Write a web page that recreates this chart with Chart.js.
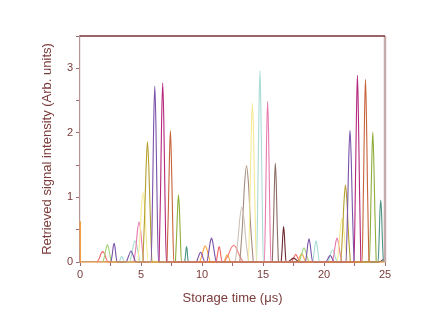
<!DOCTYPE html>
<html>
<head>
<meta charset="utf-8">
<script src="https://cdn.jsdelivr.net/npm/chart.js@4.4.1/dist/chart.umd.min.js"></script>
<style>
  html, body { margin: 0; padding: 0; background: #fff; }
</style>
</head>
<body>
<canvas id="myChart" width="447" height="315"></canvas>
<script>
// pulses, [time (us), intensity]
const baseline = [[0, 0.63], [0.04, 0], [25, 0]]
const purple = [
  [2.54,0],[2.64,0.11],[2.72,0.23],[2.79,0.29],[2.87,0.23],[2.94,0.11],[3.04,0],
  [3.78,0],[3.94,0.07],[4.06,0.13],[4.18,0.17],[4.3,0.13],[4.42,0.07],[4.58,0],
  [5.83,0],[5.95,1.06],[6.04,2.15],[6.13,2.72],[6.22,2.15],[6.31,1.06],[6.43,0],
  [9.53,0],[9.67,0.06],[9.78,0.12],[9.88,0.15],[9.99,0.12],[10.09,0.06],[10.23,0],
  [10.38,0],[10.54,0.14],[10.66,0.29],[10.78,0.37],[10.9,0.29],[11.02,0.14],[11.18,0],
  [18.47,0],[18.59,0.14],[18.68,0.28],[18.77,0.36],[18.86,0.28],[18.95,0.14],[19.07,0],
  [20.15,0],[20.29,0.04],[20.4,0.08],[20.5,0.1],[20.61,0.08],[20.71,0.04],[20.85,0],
  [21.8,0],[21.93,0.8],[22.03,1.61],[22.13,2.04],[22.23,1.61],[22.33,0.8],[22.46,0]]
const magenta = [
  [6.48,0],[6.6,1.08],[6.69,2.19],[6.78,2.77],[6.87,2.19],[6.96,1.08],[7.08,0],
  [22.46,0],[22.57,1.13],[22.66,2.28],[22.74,2.89],[22.82,2.28],[22.91,1.13],[23.02,0]]
const rust = [
  [7.13,0],[7.24,0.79],[7.33,1.6],[7.41,2.03],[7.49,1.6],[7.58,0.79],[7.69,0],
  [23.12,0],[23.23,1.1],[23.32,2.24],[23.4,2.83],[23.48,2.24],[23.57,1.1],[23.68,0]]
const olive = [
  [5.15,0],[5.3,0.73],[5.42,1.47],[5.53,1.86],[5.64,1.47],[5.76,0.73],[5.91,0],
  [21.36,0],[21.52,0.46],[21.64,0.94],[21.76,1.19],[21.88,0.94],[22.0,0.46],[22.16,0]]
const yellow = [
  [4.75,0],[4.92,0.42],[5.04,0.85],[5.17,1.08],[5.3,0.85],[5.42,0.42],[5.59,0],
  [13.8,0],[13.93,0.96],[14.03,1.94],[14.13,2.46],[14.23,1.94],[14.33,0.96],[14.46,0],
  [21.06,0],[21.23,0.27],[21.35,0.54],[21.48,0.68],[21.61,0.54],[21.73,0.27],[21.9,0]]
const green = [
  [7.82,0],[7.92,0.41],[8.0,0.82],[8.07,1.04],[8.15,0.82],[8.22,0.41],[8.32,0],
  [23.72,0],[23.83,0.78],[23.92,1.59],[24.0,2.01],[24.08,1.59],[24.17,0.78],[24.28,0]]
const lightGreen = [
  [1.89,0],[2.03,0.11],[2.14,0.21],[2.24,0.27],[2.35,0.21],[2.45,0.11],[2.59,0],
  [17.96,0],[18.12,0.09],[18.24,0.17],[18.36,0.22],[18.48,0.17],[18.6,0.09],[18.76,0]]
const pink = [
  [4.42,0],[4.59,0.24],[4.71,0.49],[4.84,0.62],[4.97,0.49],[5.09,0.24],[5.26,0],
  [15.11,0],[15.22,0.97],[15.3,1.97],[15.38,2.49],[15.46,1.97],[15.54,0.97],[15.65,0],
  [20.67,0],[20.83,0.14],[20.95,0.29],[21.07,0.37],[21.19,0.29],[21.31,0.14],[21.47,0]]
const lightCyan = [
  [3.22,0],[3.3,0.04],[3.36,0.07],[3.42,0.09],[3.48,0.07],[3.54,0.04],[3.62,0],
  [4.06,0],[4.24,0.13],[4.38,0.26],[4.51,0.33],[4.65,0.26],[4.78,0.13],[4.96,0],
  [14.47,0],[14.58,1.15],[14.67,2.34],[14.75,2.96],[14.83,2.34],[14.92,1.15],[15.03,0],
  [19.07,0],[19.18,0.13],[19.27,0.26],[19.35,0.33],[19.43,0.26],[19.52,0.13],[19.63,0],
  [20.3,0],[20.46,0.07],[20.58,0.15],[20.7,0.19],[20.82,0.15],[20.94,0.07],[21.1,0]]
const teal = [
  [8.58,0],[8.64,0.09],[8.69,0.19],[8.73,0.24],[8.78,0.19],[8.82,0.09],[8.88,0],
  [24.43,0],[24.52,0.37],[24.58,0.76],[24.65,0.96],[24.72,0.76],[24.78,0.37],[24.87,0]]
const beige = [[12.72,0],[12.94,0.33],[13.1,0.67],[13.27,0.85],[13.44,0.67],[13.6,0.33],[13.82,0]]
const taupe = [[13.1,0],[13.32,0.58],[13.48,1.18],[13.65,1.49],[13.82,1.18],[13.98,0.58],[14.2,0]]
const greyBrown = [[15.76,0],[15.86,0.6],[15.94,1.21],[16.01,1.53],[16.09,1.21],[16.16,0.6],[16.26,0]]
const maroon = [
  [16.49,0],[16.57,0.21],[16.63,0.43],[16.69,0.55],[16.75,0.43],[16.81,0.21],[16.89,0],
  [17.0,0],[17.5,0.06],[18.0,0],[24.5,0],[25,0.06]]
const orange = [
  [9.81,0],[9.99,0.1],[10.13,0.2],[10.26,0.25],[10.4,0.2],[10.53,0.1],[10.71,0],
  [11.77,0],[11.89,0.04],[11.98,0.09],[12.07,0.11],[12.16,0.09],[12.25,0.04],[12.37,0],
  [17.82,0],[17.96,0.05],[18.07,0.1],[18.17,0.13],[18.28,0.1],[18.38,0.05],[18.52,0]]
const red = [
  [1.41,0],[1.59,0.06],[1.73,0.13],[1.86,0.16],[2.0,0.13],[2.13,0.06],[2.31,0],
  [11.15,0],[11.25,0.09],[11.33,0.19],[11.4,0.24],[11.48,0.19],[11.55,0.09],[11.65,0],
  [17.33,0],[17.47,0.05],[17.58,0.09],[17.68,0.12],[17.79,0.09],[17.89,0.05],[18.03,0]]
const salmon = [[11.82,0],[12.13,0.1],[12.37,0.21],[12.6,0.26],[12.83,0.21],[13.07,0.1],[13.38,0]]

const xTicks = [0, 5, 10, 15, 20, 25]
const yTicks = [0, 1, 2, 3]

const traces = [
  [baseline, '#f4a040'],
  [purple, '#7b52aa'], [magenta, '#b5287c'], [rust, '#c8643c'],
  [olive, '#b5a02e'], [yellow, '#f6ea94'], [green, '#8fae3c'],
  [lightGreen, '#a2d47a'], [pink, '#e87ab0'], [lightCyan, '#a8dcd4'],
  [teal, '#4c9484'], [beige, '#cdc1b7'], [taupe, '#a58c7e'],
  [greyBrown, '#8c6c66'], [maroon, '#6e2a32'], [orange, '#f7a445'],
  [red, '#f06464'], [salmon, '#f27c7c']
]

const ink = '#7b3b3b'

const frame = {
  id: 'frame',
  afterDatasetsDraw(chart) {
    const {ctx, chartArea: a} = chart
    ctx.save()
    ctx.strokeStyle = '#c6abad'
    ctx.lineWidth = 2.5
    ctx.beginPath()
    ctx.moveTo(a.right, a.top)
    ctx.lineTo(a.right, a.bottom)
    ctx.stroke()
    ctx.strokeStyle = '#7a3034'
    ctx.lineWidth = 1.5
    ctx.beginPath()
    ctx.moveTo(a.left, a.top)
    ctx.lineTo(a.right, a.top)
    ctx.stroke()
    ctx.restore()
  }
}

let ctx = document.getElementById('myChart').getContext('2d')
let myChart = new Chart(ctx, {
  type: 'line',
  data: {
    datasets: traces.map(([pts, col], i) => ({
      data: pts,
      borderColor: col,
      borderWidth: 1.1,
      pointRadius: 0,
      fill: false,
      clip: 3,
      cubicInterpolationMode: i === 0 ? 'default' : 'monotone',
      tension: 0
    }))
  },
  plugins: [frame],
  options: {
    responsive: false,
    animation: false,
    devicePixelRatio: 1,
    layout: { padding: { left: 0, top: 36, right: 62, bottom: 0 } },
    plugins: { legend: { display: false }, tooltip: { enabled: false } },
    scales: {
      x: {
        type: 'linear', min: 0, max: 25,
        afterFit: s => { s.height = 53 },
        afterBuildTicks: s => { s.ticks = [0, 2.5, 5, 7.5, 10, 12.5, 15, 17.5, 20, 22.5, 25].map(v => ({value: v})) },
        ticks: {
          color: ink, padding: 2, maxRotation: 0, autoSkip: false,
          font: { family: 'Liberation Sans', size: 11 },
          callback: v => xTicks.includes(v) ? String(v) : ''
        },
        grid: { drawOnChartArea: false, tickLength: 4, tickColor: '#9c6a6a' },
        border: { color: '#b89494', width: 1.2 },
        title: {
          display: true, text: 'Storage time (\u03bcs)', color: ink,
          font: { family: 'Liberation Sans', size: 13 },
          padding: { top: 0, bottom: 9 }
        }
      },
      y: {
        type: 'linear', min: 0, max: 3.5,
        afterFit: s => { s.width = 80 },
        afterBuildTicks: s => { s.ticks = [0, 0.5, 1, 1.5, 2, 2.5, 3, 3.5].map(v => ({value: v})) },
        ticks: {
          color: ink, padding: 3, autoSkip: false,
          font: { family: 'Liberation Sans', size: 11 },
          callback: v => yTicks.includes(v) ? String(v) : ''
        },
        grid: { drawOnChartArea: false, tickLength: 4, tickColor: '#9c6a6a' },
        border: { color: '#b89494', width: 1.2 },
        title: {
          display: true, text: 'Retrieved signal intensity (Arb. units)', color: ink,
          font: { family: 'Liberation Sans', size: 13 },
          padding: { top: 40, bottom: 0 }
        }
      }
    }
  }
})
</script>
</body>
</html>
